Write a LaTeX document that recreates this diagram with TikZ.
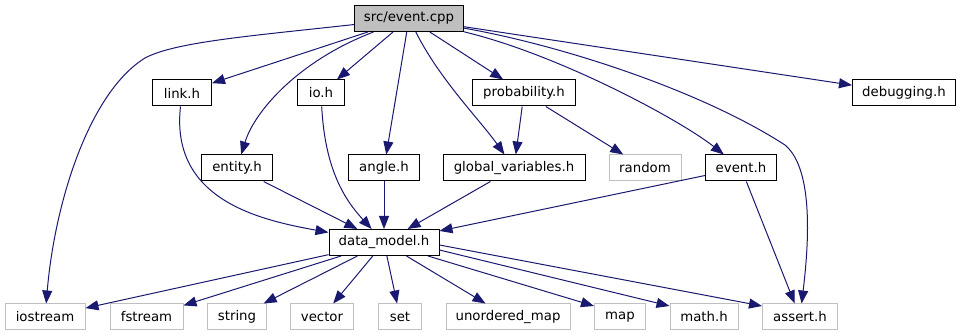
\documentclass[tikz,border=0pt]{standalone}
\usepackage{fontspec}
\setmainfont{DejaVu Sans}
\usetikzlibrary{arrows.meta}
\definecolor{edgeblue}{RGB}{25,25,112}
\definecolor{sysgray}{RGB}{191,191,191}
\tikzset{
  hdr/.style={draw=black, line width=1pt, fill=white, inner xsep=0pt, inner ysep=0pt,
    minimum height=26pt, font=\fontsize{13.3}{15}\selectfont, text=black},
  root/.style={hdr, fill=sysgray},
  syshdr/.style={hdr, draw=sysgray},
  dep/.style={draw=edgeblue, line width=1pt, -{Triangle[length=13pt,width=10pt]}, fill=none},
}
\begin{document}
\begin{tikzpicture}[x=1pt,y=-1pt]
\useasboundingbox (0,0) rectangle (961,336);

% source file
\node[root, minimum width=109pt] (cpp) at (409,18.5) {src/event.cpp};

% first level of includes
\node[hdr, minimum width=59pt]  (link)  at (182,93) {link.h};
\node[hdr, minimum width=47pt]  (io)    at (321,93) {io.h};
\node[hdr, minimum width=103pt] (prob)  at (524,93) {probability.h};
\node[hdr, minimum width=103pt] (dbg)   at (904,93) {debugging.h};

% second level
\node[hdr, minimum width=71pt]    (entity) at (237,168) {entity.h};
\node[hdr, minimum width=71pt]    (angle)  at (384,168) {angle.h};
\node[hdr, minimum width=142pt]   (glob)   at (514,168) {global\_variables.h};
\node[syshdr, minimum width=72pt] (random) at (645,168) {random};
\node[hdr, minimum width=71pt]    (evh)    at (741,168) {event.h};

% data model
\node[hdr, minimum width=110pt] (dm) at (384,242.5) {data\_model.h};

% standard library headers
\node[syshdr, minimum width=80pt]  (iostream) at (45,317)   {iostream};
\node[syshdr, minimum width=73pt]  (fstream)  at (146.5,317){fstream};
\node[syshdr, minimum width=59pt]  (string)   at (237,317)  {string};
\node[syshdr, minimum width=63pt]  (vector)   at (322,317)  {vector};
\node[syshdr, minimum width=43pt]  (set)      at (400,317)  {set};
\node[syshdr, minimum width=124pt] (umap)     at (508,317)  {unordered\_map};
\node[syshdr, minimum width=51pt]  (map)      at (620,317)  {map};
\node[syshdr, minimum width=68pt]  (mathh)    at (704,317)  {math.h};
\node[syshdr, minimum width=75pt]  (assert)   at (800,317)  {assert.h};

% includes of src/event.cpp
\draw[dep] (cpp) .. controls (250,36) and (175,42) .. (145,58)
                 .. controls (90,92) and (55,200) .. (iostream);
\draw[dep] (cpp) -- (link);
\draw[dep] (cpp) .. controls (300,60) and (255,110) .. (entity);
\draw[dep] (cpp) -- (io);
\draw[dep] (cpp) -- (angle);
\draw[dep] (cpp) .. controls (440,80) and (480,120) .. (glob);
\draw[dep] (cpp) -- (prob);
\draw[dep] (cpp) .. controls (560,55) and (680,120) .. (evh);
\draw[dep] (cpp) .. controls (560,45) and (700,90) .. (785,145)
                 .. controls (815,170) and (808,250) .. (assert);
\draw[dep] (cpp) -- (dbg);

% second level includes
\draw[dep] (link) .. controls (170,200) and (260,220) .. (dm);
\draw[dep] (io) .. controls (325,170) and (345,200) .. (dm);
\draw[dep] (entity) -- (dm);
\draw[dep] (angle) -- (dm);
\draw[dep] (glob) -- (dm);
\draw[dep] (evh) -- (dm);
\draw[dep] (evh) -- (assert);
\draw[dep] (prob) -- (glob);
\draw[dep] (prob) -- (random);

% includes of data_model.h
\draw[dep] (dm) -- (iostream);
\draw[dep] (dm) -- (fstream);
\draw[dep] (dm) -- (string);
\draw[dep] (dm) -- (vector);
\draw[dep] (dm) -- (set);
\draw[dep] (dm) -- (umap);
\draw[dep] ([xshift=44pt]dm.south) -- ([yshift=11pt]map.west);
\draw[dep] ([yshift=-7.5pt]dm.east) -- ([yshift=11pt]mathh.west);
\draw[dep] ([yshift=-2.5pt]dm.east) -- ([yshift=11pt]assert.west);
\end{tikzpicture}
\end{document}
